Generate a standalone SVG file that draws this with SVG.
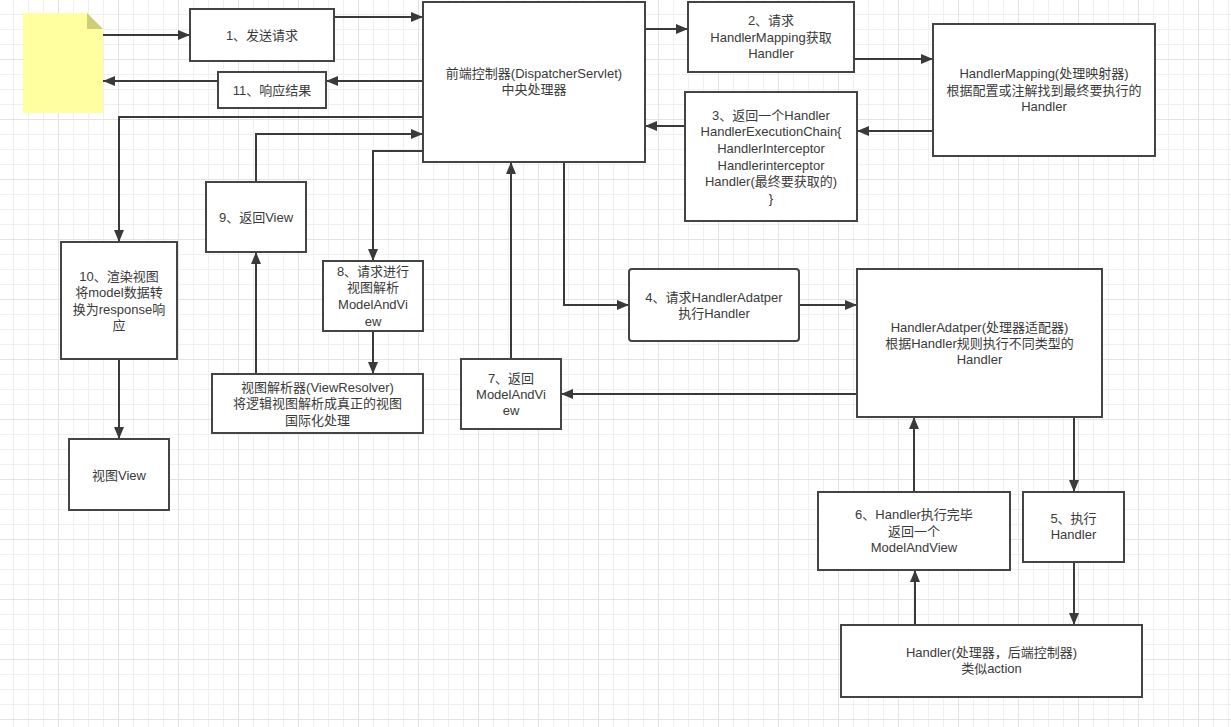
<svg xmlns="http://www.w3.org/2000/svg" width="1231" height="727" viewBox="0 0 1231 727">
<style>
.box{fill:#ffffff;stroke:#444444;stroke-width:2}
.c{fill:none;stroke:#3a3a3a;stroke-width:2}
text{font-family:"Liberation Sans","Noto Sans CJK SC",sans-serif;font-size:13px;fill:#3a3a3a;text-anchor:middle}
</style>
<defs>
<pattern id="minor" x="13" y="14" width="15" height="15" patternUnits="userSpaceOnUse">
<path d="M0.5,0 V15 M0,0.5 H15" stroke="#f0f0f0" stroke-width="1" fill="none"/>
</pattern>
<pattern id="major" x="58" y="59" width="60" height="60" patternUnits="userSpaceOnUse">
<path d="M0.5,0 V60 M0,0.5 H60" stroke="#e3e3e3" stroke-width="1" fill="none"/>
</pattern>
<marker id="arr" markerUnits="userSpaceOnUse" markerWidth="12" markerHeight="10" viewBox="0 0 12 10" refX="12" refY="5" orient="auto">
<path d="M0,0 L12,5 L0,10 z" fill="#3a3a3a"/>
</marker>
</defs>
<rect x="0" y="0" width="1231" height="727" fill="#ffffff"/>
<rect x="0" y="0" width="1231" height="727" fill="url(#minor)"/>
<rect x="0" y="0" width="1231" height="727" fill="url(#major)"/>

<g id="connectors">
<path class="c" d="M103,35 H190" marker-end="url(#arr)"/>
<path class="c" d="M334,17 H423" marker-end="url(#arr)"/>
<path class="c" d="M423,81 H326" marker-end="url(#arr)"/>
<path class="c" d="M218,81 H103" marker-end="url(#arr)"/>
<path class="c" d="M645,29 H688" marker-end="url(#arr)"/>
<path class="c" d="M854,59 H933" marker-end="url(#arr)"/>
<path class="c" d="M933,131 H857" marker-end="url(#arr)"/>
<path class="c" d="M685,126 H645" marker-end="url(#arr)"/>
<path class="c" d="M564,162 V305 H629" marker-end="url(#arr)"/>
<path class="c" d="M799,305 H857" marker-end="url(#arr)"/>
<path class="c" d="M1074,417 V492" marker-end="url(#arr)"/>
<path class="c" d="M1074,562 V625" marker-end="url(#arr)"/>
<path class="c" d="M915,625 V570" marker-end="url(#arr)"/>
<path class="c" d="M914,492 V417" marker-end="url(#arr)"/>
<path class="c" d="M857,394 H561" marker-end="url(#arr)"/>
<path class="c" d="M511,359 V162" marker-end="url(#arr)"/>
<path class="c" d="M423,151 H373 V261" marker-end="url(#arr)"/>
<path class="c" d="M373,331 V374" marker-end="url(#arr)"/>
<path class="c" d="M256,374 V252" marker-end="url(#arr)"/>
<path class="c" d="M256,182 V134 H423" marker-end="url(#arr)"/>
<path class="c" d="M423,117 H119 V242" marker-end="url(#arr)"/>
<path class="c" d="M119,359 V439" marker-end="url(#arr)"/>
</g>

<g id="note">
<path d="M23,13 H87 L103,29 V113 H23 Z" fill="#ffff9f"/>
<path d="M87,13 L103,29 H87 Z" fill="#cfcd75"/>
</g>

<g id="n1"><rect class="box" x="190" y="9" width="144" height="52"/><text x="262" y="39.5">1、发送请求</text></g>
<g id="n11"><rect class="box" x="218" y="72" width="108" height="36"/><text x="272" y="94.5">11、响应结果</text></g>
<g id="ds"><rect class="box" x="423" y="2" width="222" height="160"/>
<text x="534" y="77.5">前端控制器(DispatcherServlet)</text><text x="534" y="94">中央处理器</text></g>
<g id="n2"><rect class="box" x="688" y="2" width="166" height="70"/>
<text x="771" y="25">2、请求</text><text x="771" y="41.5">HandlerMapping获取</text><text x="771" y="58">Handler</text></g>
<g id="hm"><rect class="box" x="933" y="24" width="222" height="132"/>
<text x="1044" y="78">HandlerMapping(处理映射器)</text><text x="1044" y="94.5">根据配置或注解找到最终要执行的</text><text x="1044" y="111">Handler</text></g>
<g id="n3"><rect class="box" x="685" y="92" width="172" height="129"/>
<text x="771" y="119.5">3、返回一个Handler</text><text x="771" y="136">HandlerExecutionChain{</text><text x="771" y="152.5">HandlerInterceptor</text><text x="771" y="169.5">Handlerinterceptor</text><text x="771" y="186">Handler(最终要获取的)</text><text x="771" y="203">}</text></g>
<g id="n4"><rect class="box" x="629" y="269" width="170" height="72" rx="3" ry="3"/>
<text x="714" y="301.5">4、请求HandlerAdatper</text><text x="714" y="317.5">执行Handler</text></g>
<g id="ha"><rect class="box" x="857" y="269" width="245" height="148"/>
<text x="979.5" y="331.5">HandlerAdatper(处理器适配器)</text><text x="979.5" y="347.5">根据Handler规则执行不同类型的</text><text x="979.5" y="364">Handler</text></g>
<g id="n5"><rect class="box" x="1023" y="492" width="101" height="70"/>
<text x="1073.5" y="522.5">5、执行</text><text x="1073.5" y="539">Handler</text></g>
<g id="n6"><rect class="box" x="818" y="492" width="192" height="78"/>
<text x="914" y="519">6、Handler执行完毕</text><text x="914" y="535.5">返回一个</text><text x="914" y="552">ModelAndView</text></g>
<g id="handler"><rect class="box" x="841" y="625" width="301" height="72"/>
<text x="991.5" y="656.5">Handler(处理器，后端控制器)</text><text x="991.5" y="673">类似action</text></g>
<g id="n7"><rect class="box" x="461" y="359" width="100" height="70"/>
<text x="511" y="382.5">7、返回</text><text x="511" y="398.5">ModelAndVi</text><text x="511" y="415">ew</text></g>
<g id="vr"><rect class="box" x="212" y="374" width="211" height="59"/>
<text x="317.5" y="391.5">视图解析器(ViewResolver)</text><text x="317.5" y="408">将逻辑视图解析成真正的视图</text><text x="317.5" y="424.5">国际化处理</text></g>
<g id="n8"><rect class="box" x="323" y="261" width="100" height="70"/>
<text x="373" y="275.5">8、请求进行</text><text x="373" y="292">视图解析</text><text x="373" y="308.5">ModelAndVi</text><text x="373" y="325.5">ew</text></g>
<g id="n9"><rect class="box" x="206" y="182" width="100" height="70"/><text x="256" y="221.5">9、返回View</text></g>
<g id="n10"><rect class="box" x="61" y="242" width="116" height="117"/>
<text x="119" y="280.5">10、渲染视图</text><text x="119" y="297">将model数据转</text><text x="119" y="313.5">换为response响</text><text x="119" y="330">应</text></g>
<g id="view"><rect class="box" x="69" y="439" width="100" height="71"/><text x="119" y="479.5">视图View</text></g>
</svg>
